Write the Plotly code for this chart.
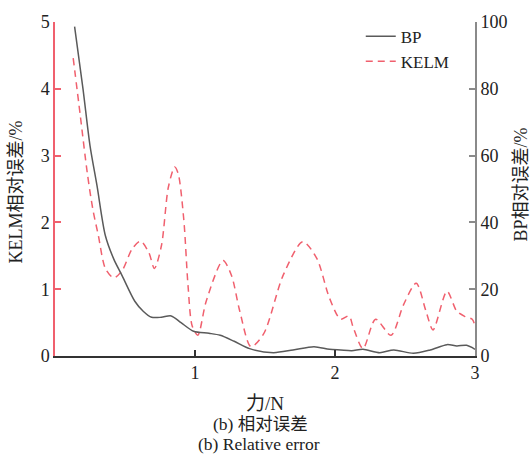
import plotly.graph_objects as go

# Force (N) and relative error samples
bp_force = [0.14, 0.20, 0.25, 0.30, 0.36, 0.42, 0.48, 0.57, 0.63, 0.69, 0.76, 0.83, 0.90, 0.99,
            1.10, 1.18, 1.28, 1.39, 1.56, 1.70, 1.85, 1.96, 2.04, 2.12, 2.20, 2.32, 2.42, 2.56,
            2.68, 2.80, 2.87, 2.94, 3.00]
bp_error = [98.6, 80.0, 63.0, 51.0, 36.0, 29.0, 24.0, 16.4, 13.4, 11.6, 11.6, 12.0, 10.0, 7.4,
            6.8, 6.2, 4.4, 2.2, 1.0, 1.8, 2.8, 2.0, 1.8, 1.6, 2.0, 1.0, 1.8, 0.8,
            1.8, 3.4, 3.0, 3.2, 2.0]

kelm_force = [0.13, 0.18, 0.23, 0.27, 0.31, 0.36, 0.42, 0.48, 0.55, 0.61, 0.67, 0.71, 0.76, 0.81,
              0.855, 0.88, 0.92, 0.95, 0.98, 1.02, 1.08, 1.20, 1.26, 1.32, 1.40, 1.49, 1.63, 1.77,
              1.87, 1.96, 2.04, 2.10, 2.13, 2.20, 2.29, 2.40, 2.49, 2.58, 2.65, 2.70, 2.80, 2.87,
              2.93, 2.98, 3.00]
kelm_error = [4.46, 3.61, 2.75, 2.20, 1.80, 1.31, 1.17, 1.28, 1.60, 1.72, 1.55, 1.31, 1.65, 2.53,
              2.83, 2.73, 2.04, 1.06, 0.45, 0.31, 0.82, 1.43, 1.21, 0.67, 0.14, 0.33, 1.21, 1.71,
              1.46, 0.87, 0.55, 0.60, 0.43, 0.11, 0.55, 0.31, 0.77, 1.09, 0.67, 0.39, 0.97, 0.67,
              0.59, 0.55, 0.45]

x_ticks = [1, 2, 3]
left_ticks = [0, 1, 2, 3, 4, 5]
right_ticks = [0, 20, 40, 60, 80, 100]

SERIF = "Liberation Serif, Times New Roman, Noto Sans CJK SC, serif"
RED = "#f0606e"
GREY = "#8a8a8a"

fig = go.Figure()
fig.add_trace(go.Scatter(
    x=bp_force, y=bp_error, name="BP", mode="lines", yaxis="y2",
    line=dict(color="#5a5a5a", width=1.5, shape="spline", smoothing=0.8),
))
fig.add_trace(go.Scatter(
    x=kelm_force, y=kelm_error, name="KELM", mode="lines", yaxis="y",
    line=dict(color=RED, width=1.5, dash="7px,5px", shape="spline", smoothing=0.8),
))

tick_font = dict(family=SERIF, size=18, color="#222")

fig.update_layout(
    width=531, height=462,
    margin=dict(l=55, r=56, t=15, b=106),
    paper_bgcolor="white", plot_bgcolor="white",
    font=dict(family=SERIF, size=16, color="#222"),
    showlegend=True,
    legend=dict(x=0.728, y=1.01, xanchor="left", yanchor="top",
                bgcolor="rgba(0,0,0,0)", font=dict(family=SERIF, size=17, color="#222"),
                tracegroupgap=0, itemwidth=30),
    xaxis=dict(range=[0, 3], tickvals=x_ticks, ticktext=[str(v) for v in x_ticks],
               showgrid=False, zeroline=False, showline=True, linecolor="#333", linewidth=1.5,
               ticks="inside", ticklen=6, tickcolor="#333", tickwidth=1.5,
               tickfont=tick_font),
    yaxis=dict(range=[0, 5], tickvals=left_ticks, showgrid=False, zeroline=False,
               showline=True, linecolor=RED, linewidth=1.5,
               ticks="inside", ticklen=6, tickcolor=RED, tickwidth=1.5,
               tickfont=tick_font),
    yaxis2=dict(range=[0, 100], tickvals=right_ticks, overlaying="y", side="right",
                showgrid=False, zeroline=False, showline=True, linecolor=GREY, linewidth=2,
                ticks="inside", ticklen=6, tickcolor=GREY, tickwidth=1.5,
                tickfont=tick_font),
)

annotations = [
    dict(text="KELM相对误差/%", x=16, y=189, textangle=-90, size=18),
    dict(text="BP相对误差/%", x=521, y=181, textangle=-90, size=18),
    dict(text="力/N", x=265, y=405, textangle=0, size=19),
    dict(text="(b) 相对误差", x=260, y=425, textangle=0, size=17.5),
    dict(text="(b) Relative error", x=259, y=446, textangle=0, size=17.5),
]
for a in annotations:
    fig.add_annotation(
        text=a["text"], xref="paper", yref="paper",
        x=(a["x"] - 55) / 420, y=(356 - a["y"]) / 341,
        xanchor="center", yanchor="middle", textangle=a["textangle"],
        showarrow=False, font=dict(family=SERIF, size=a["size"], color="#222"),
    )

fig.write_html("out.html")
